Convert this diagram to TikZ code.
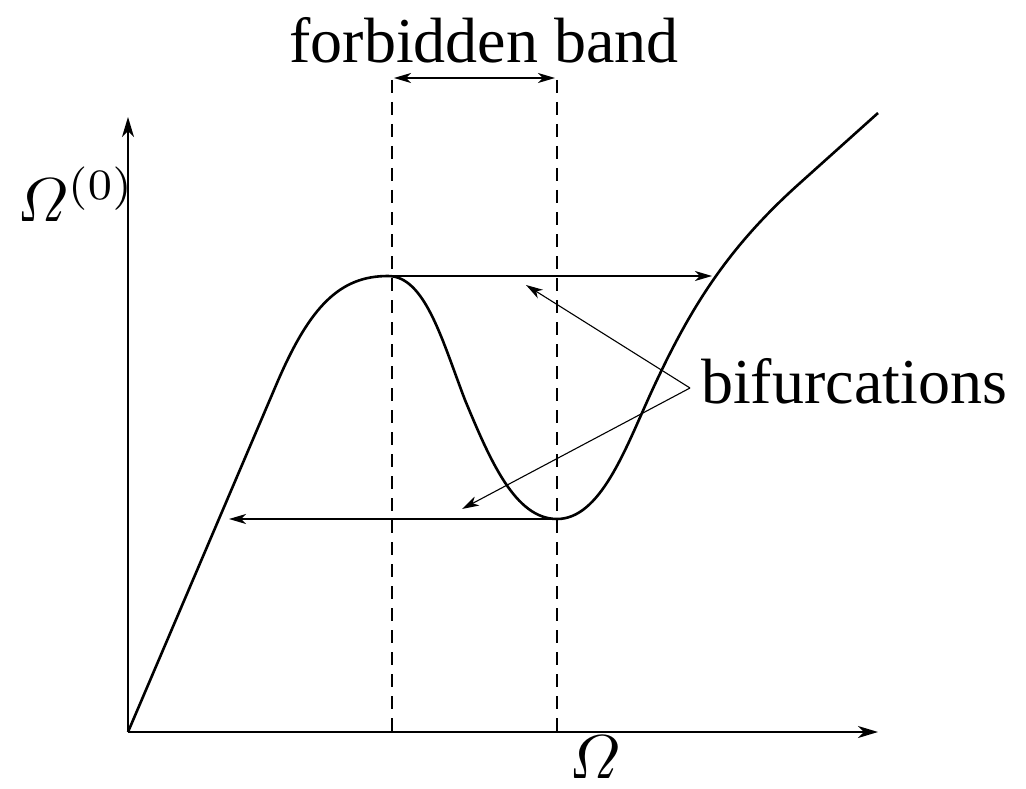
\documentclass[tikz,border=0pt]{standalone}
\usepackage{amsmath}
\usepackage{fontspec}
\setmainfont{Liberation Serif}
\usetikzlibrary{arrows.meta}
\begin{document}
\begin{tikzpicture}[x=1pt,y=-1pt,
  axis/.style={line width=1.5pt,-{Stealth[length=20pt,width=12pt,inset=6pt]}},
  thinarrow/.style={line width=1.4pt,-{Stealth[length=17pt,width=10pt,inset=5pt]}},
  pointer/.style={line width=1.1pt,-{Stealth[length=17pt,width=10pt,inset=5pt]}},
  curve/.style={line width=2.6pt,line join=round},
  guide/.style={line width=2pt,dash pattern=on 13pt off 9pt},
  lbl/.style={inner sep=0pt,font=\fontsize{64}{70}\selectfont},
  mlbl/.style={inner sep=0pt,scale=6.2}]
\useasboundingbox (0,0) rectangle (1026,789);
% axes
\coordinate (O) at (128,732);
\coordinate (ytip) at (128,117);
\coordinate (xtip) at (878,732);
\draw[axis] (O) -- (ytip);
\draw[axis] (O) -- (xtip);
\node[mlbl,anchor=base west] (ylab) at (16,222) {$\varOmega^{(0)}$};
\node[mlbl,anchor=base] (xlab) at (595,778) {$\varOmega$};
% guides
\coordinate (g1t) at (392,80);
\coordinate (g1b) at (392,732);
\coordinate (g2t) at (557,80);
\coordinate (g2b) at (557,732);
\draw[guide] (g1t) -- (g1b);
\draw[guide] (g2t) -- (g2b);
\coordinate (b1) at (394,78);
\coordinate (b2) at (555,78);
\draw[line width=1.4pt,{Stealth[length=17pt,width=10pt,inset=5pt]}-{Stealth[length=17pt,width=10pt,inset=5pt]}] (b1) -- (b2);
\node[lbl,anchor=base] (band) at (484,63) {forbidden band};
% curve
\draw[curve] (O) -- (277,383) .. controls (310,306) and (340,276) .. (388,276)
  .. controls (425,276) and (442,340) .. (465,400)
  .. controls (490,460) and (515,519) .. (557,519)
  .. controls (600,519) and (625,450) .. (650,395)
  .. controls (688,312) and (725,250) .. (800,183) -- (878,113);
% jump arrows
\coordinate (top0) at (392,276);
\coordinate (top1) at (712,276);
\coordinate (bot0) at (557,519);
\coordinate (bot1) at (229,519);
\draw[thinarrow] (top0) -- (top1);
\draw[thinarrow] (bot0) -- (bot1);
% bifurcations label
\node[lbl,anchor=base west] (bif) at (701,403) {bifurcations};
\coordinate (bp) at (690,388);
\coordinate (u) at (526,285);
\coordinate (d) at (462,509);
\draw[pointer] (bp) -- (u);
\draw[pointer] (bp) -- (d);
\end{tikzpicture}
\end{document}
